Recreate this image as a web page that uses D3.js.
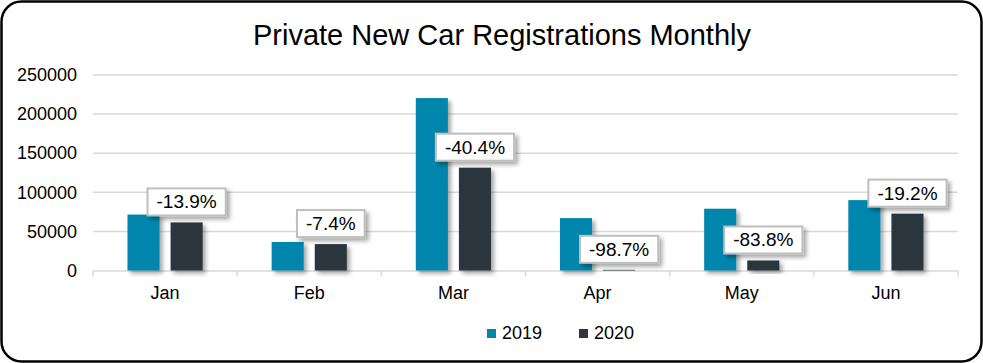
<!DOCTYPE html>
<html>
<head>
<meta charset="utf-8">
<style>
  body { margin: 0; background: #fff; }
  svg { display: block; font-family: "Liberation Sans", Arial, sans-serif; }
  .grid line { stroke: #d9d9d9; stroke-width: 1.5; }
  .lbl rect { fill: #fff; stroke: #bfbfbf; stroke-width: 2; }
</style>
</head>
<body>
<svg width="983" height="363"></svg>
<script src="https://d3js.org/d3.v7.min.js"></script>
<script>
// data
var months = ["Jan", "Feb", "Mar", "Apr", "May", "Jun"];
var series = ["2019", "2020"];
var y2019 = [71500, 36500, 220500, 67000, 79000, 90000];
var y2020 = [61500, 33800, 131500, 870, 12800, 72700];
var changes = ["-13.9%", "-7.4%", "-40.4%", "-98.7%", "-83.8%", "-19.2%"];
var yTicks = [0, 50000, 100000, 150000, 200000, 250000];
var colors = ["#0086ad", "#2b363d"];

var svg = d3.select("svg"),
    width = +svg.attr("width"),
    height = +svg.attr("height");

var defs = svg.append("defs");
var f = defs.append("filter").attr("id", "shadow")
  .attr("x", "-20%").attr("y", "-20%").attr("width", "150%").attr("height", "150%");
f.append("feDropShadow").attr("dx", 3).attr("dy", 3).attr("stdDeviation", 2)
  .attr("flood-color", "#000").attr("flood-opacity", 0.35);

// outer frame
svg.append("rect")
  .attr("x", 1.5).attr("y", 1.5)
  .attr("width", width - 3).attr("height", height - 3)
  .attr("rx", 20).attr("ry", 20)
  .attr("fill", "#fff").attr("stroke", "#000").attr("stroke-width", 2.5);

svg.append("text")
  .attr("x", 502).attr("y", 45)
  .attr("text-anchor", "middle")
  .attr("font-size", 29)
  .attr("fill", "#000")
  .text("Private New Car Registrations Monthly");

var x0 = d3.scaleBand().domain(months).range([93, 958]);
var x1 = d3.scaleBand().domain(series).range([0, x0.bandwidth()])
  .paddingInner(0.256).paddingOuter(0.8);
var y = d3.scaleLinear().domain([0, 250000]).range([270.5, 75]);

// gridlines
svg.append("g").attr("class", "grid")
  .selectAll("line").data(yTicks.slice(1)).enter().append("line")
  .attr("x1", 93).attr("x2", 958)
  .attr("y1", function(d) { return y(d); })
  .attr("y2", function(d) { return y(d); });

// y axis labels
var yAxis = svg.append("g")
  .attr("transform", "translate(93,0)")
  .call(d3.axisLeft(y).tickValues(yTicks).tickSize(0).tickPadding(16).tickFormat(d3.format("d")));
yAxis.select(".domain").remove();
yAxis.selectAll("text").attr("font-size", 18).attr("fill", "#000")
  .attr("font-family", "Liberation Sans, Arial, sans-serif");

// x axis
var xAxis = svg.append("g")
  .attr("transform", "translate(0," + y(0) + ")")
  .call(d3.axisBottom(x0).tickSize(0).tickPadding(16));
xAxis.select(".domain").attr("stroke", "#d9d9d9").attr("stroke-width", 1.5);
xAxis.selectAll("text").attr("font-size", 18).attr("fill", "#000")
  .attr("font-family", "Liberation Sans, Arial, sans-serif");
var bounds = months.map(function(m) { return x0(m); }).concat([958]);
xAxis.selectAll(".sep").data(bounds).enter().append("line")
  .attr("class", "sep")
  .attr("x1", function(d) { return d; }).attr("x2", function(d) { return d; })
  .attr("y1", 0).attr("y2", 6)
  .attr("stroke", "#d9d9d9").attr("stroke-width", 1.5);

// bars
var rows = months.map(function(m, i) {
  return { month: m, vals: [y2019[i], y2020[i]], change: changes[i] };
});

var groups = svg.append("g").selectAll("g").data(rows).enter().append("g")
  .attr("transform", function(d) { return "translate(" + x0(d.month) + ",0)"; });

groups.selectAll("rect").data(function(d) {
    return d.vals.map(function(v, j) { return { key: series[j], v: v, c: colors[j] }; });
  }).enter().append("rect")
  .attr("x", function(d) { return x1(d.key); })
  .attr("width", x1.bandwidth())
  .attr("y", function(d) { return y(d.v); })
  .attr("height", function(d) { return y(0) - y(d.v); })
  .attr("fill", function(d) { return d.c; })
  .attr("filter", "url(#shadow)");

// percentage labels
var lbl = groups.append("g").attr("class", "lbl")
  .attr("transform", function(d) {
    return "translate(" + (x1("2020") + x1.bandwidth() / 2) + "," + (y(d.vals[1]) - 7) + ")";
  });
lbl.append("rect").attr("filter", "url(#shadow)");
lbl.append("text")
  .attr("text-anchor", "middle")
  .attr("font-size", 19)
  .attr("y", -7)
  .attr("fill", "#000")
  .text(function(d) { return d.change; });
lbl.each(function() {
  var g = d3.select(this);
  var w = g.select("text").node().getComputedTextLength() + 18;
  g.select("rect").attr("x", -w / 2).attr("y", -27).attr("width", w).attr("height", 27);
});

// legend
var legX = [487, 579];
var leg = svg.append("g").selectAll("g").data(series).enter().append("g")
  .attr("transform", function(d, i) { return "translate(" + legX[i] + ",329)"; });
leg.append("rect").attr("width", 9).attr("height", 9)
  .attr("fill", function(d, i) { return colors[i]; });
leg.append("text").attr("x", 15).attr("y", 10)
  .attr("font-size", 18).attr("fill", "#000")
  .text(function(d) { return d; });
</script>
</body>
</html>
